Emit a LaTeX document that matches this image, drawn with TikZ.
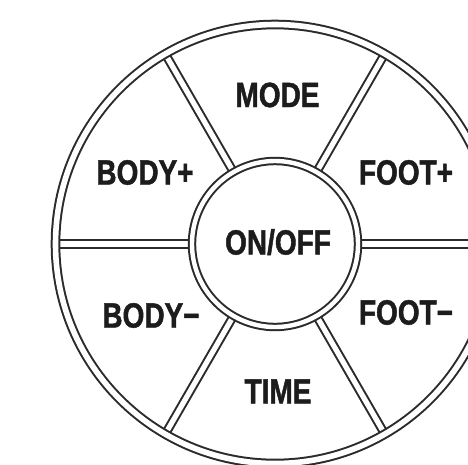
\documentclass[tikz,border=0pt]{standalone}
\usepackage{fontspec}
\usetikzlibrary{calc}
\newfontfamily\labelfont[FakeStretch=0.8,FakeBold=1.3]{Liberation Sans Bold}
\definecolor{ink}{HTML}{2B2B2B}
\definecolor{txt}{HTML}{1C1C1C}
\begin{document}
\begin{tikzpicture}[x=1pt,y=-1pt,
  ringline/.style={draw=ink,line width=2pt,double=white},
  lbl/.style={inner sep=0pt,text height=25pt,text depth=0pt,text=txt,
    font=\labelfont\fontsize{35}{35}\selectfont}]
\useasboundingbox (0,0) rectangle (468,464);
\fill[white] (0,0) rectangle (468,464);
\coordinate (c) at (275,244);
% spokes
\foreach \a in {0,60,120,180,240,300}{
  \draw[ringline,double distance=5.2pt] ($(c)+(\a:83)$) -- ($(c)+(\a:219)$);
}
% outer ring
\draw[ringline,double distance=5.6pt] (c) circle[radius=219.5];
% inner ring
\draw[ringline,double distance=4.4pt] (c) circle[radius=83];
% labels
\node[lbl] (mode) at (277.5,94.5) {MODE};
\node[lbl] (bodyp) at (145,172) {BODY+};
\node[lbl] (footp) at (406,172) {FOOT+};
\node[lbl] (onoff) at (278,242) {ON/OFF};
\node[lbl] (bodym) at (151,315) {BODY−};
\node[lbl] (footm) at (406,312) {FOOT−};
\node[lbl] (time) at (278,391) {TIME};
\end{tikzpicture}
\end{document}
